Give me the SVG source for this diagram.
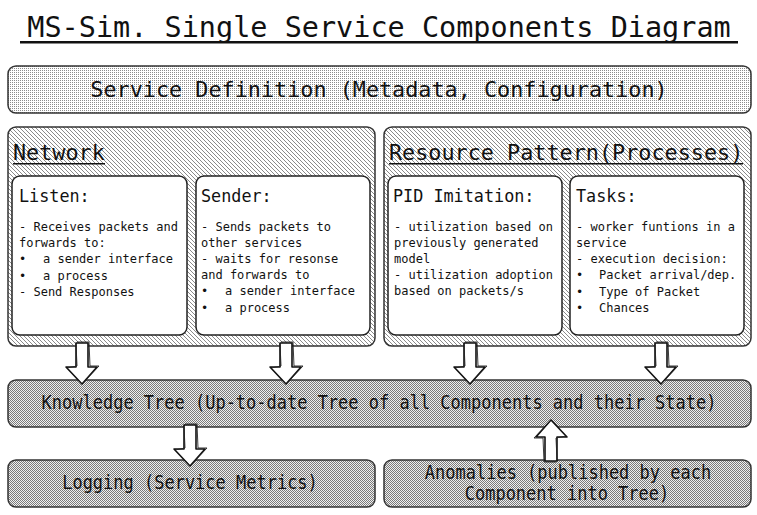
<svg xmlns="http://www.w3.org/2000/svg" width="757" height="515" viewBox="0 0 757 515">
<defs>
<pattern id="dots" width="2" height="2" patternUnits="userSpaceOnUse"><rect width="2" height="2" fill="#fff"/><rect width="1" height="1" fill="#8c8c8c"/></pattern>
<pattern id="hatch" width="4" height="4" patternUnits="userSpaceOnUse"><rect width="4" height="4" fill="#fff"/><path d="M-1,-1 L5,5 M-1,3 L1,5 M3,-1 L5,1" stroke="#8a8a8a" stroke-width="1"/></pattern>
<pattern id="checker" width="2" height="2" patternUnits="userSpaceOnUse"><rect width="2" height="2" fill="#f0f0f0"/><rect width="1" height="1" fill="#7a7a7a"/><rect x="1" y="1" width="1" height="1" fill="#7a7a7a"/></pattern>
<g id="arrow">
<path d="M-6,-41 L6,-41 L6,-17 L15,-17 L0,0 L-16,-17 L-6,-17 Z" fill="#fff" stroke="#111" stroke-width="1.6" stroke-linejoin="round"/>
<path d="M-5,-42 L7,-42 L8,-18 L17,-18 L1,-1 M-6,-40 L-5,-18 L-15,-16" fill="none" stroke="#222" stroke-width="0.9"/>
</g>
</defs>
<style>
.mono{font-family:"DejaVu Sans Mono","Liberation Mono",monospace;fill:#111}
.title{font-size:28.5px}
.big{font-size:21.8px}
.hd{font-size:16.8px}
.body{font-size:12px}
.narrow{font-size:17px}
.outer{stroke:#333;stroke-width:1.5}
.inner{fill:#fff;stroke:#222;stroke-width:1.5}
</style>
<rect width="757" height="515" fill="#fff"/>
<g id="title">
<text class="mono title" x="379" y="37" text-anchor="middle">MS-Sim. Single Service Components Diagram</text>
<rect x="20" y="41" width="718" height="2.5" fill="#111"/>
</g>
<g id="service-definition">
<rect class="outer" x="8" y="66" width="743" height="47" rx="8" fill="url(#dots)"/>
<text class="mono big" x="379" y="97" text-anchor="middle">Service Definition (Metadata, Configuration)</text>
</g>
<g id="network">
<rect class="outer" x="8" y="127" width="367" height="219" rx="8" fill="url(#hatch)"/>
<text class="mono big" x="13" y="160">Network</text>
<rect x="13" y="163" width="92" height="1.5" fill="#111"/>
</g>
<g id="listen">
<rect class="inner" x="12" y="176" width="175" height="159" rx="8"/>
<text class="mono hd" x="19" y="202">Listen:</text>
<text class="mono body" x="19" y="231">- Receives packets and</text>
<text class="mono body" x="19" y="247">forwards to:</text>
<text class="mono body" x="19" y="263">•</text><text class="mono body" x="43" y="263">a sender interface</text>
<text class="mono body" x="19" y="280">•</text><text class="mono body" x="43" y="280">a process</text>
<text class="mono body" x="19" y="296">- Send Responses</text>
</g>
<g id="sender">
<rect class="inner" x="196" y="176" width="174" height="159" rx="8"/>
<text class="mono hd" x="201" y="202">Sender:</text>
<text class="mono body" x="201" y="231">- Sends packets to</text>
<text class="mono body" x="201" y="247">other services</text>
<text class="mono body" x="201" y="263">- waits for resonse</text>
<text class="mono body" x="201" y="279">and forwards to</text>
<text class="mono body" x="201" y="295">•</text><text class="mono body" x="225" y="295">a sender interface</text>
<text class="mono body" x="201" y="312">•</text><text class="mono body" x="225" y="312">a process</text>
</g>
<g id="resource-pattern">
<rect class="outer" x="384" y="127" width="367" height="219" rx="8" fill="url(#hatch)"/>
<text class="mono big" x="389" y="160">Resource Pattern(Processes)</text>
<rect x="389" y="163" width="354" height="1.5" fill="#111"/>
</g>
<g id="pid-imitation">
<rect class="inner" x="388" y="176" width="174" height="159" rx="8"/>
<text class="mono hd" x="393" y="202">PID Imitation:</text>
<text class="mono body" x="394" y="231">- utilization based on</text>
<text class="mono body" x="394" y="247">previously generated</text>
<text class="mono body" x="394" y="263">model</text>
<text class="mono body" x="394" y="279">- utilization adoption</text>
<text class="mono body" x="394" y="295">based on packets/s</text>
</g>
<g id="tasks">
<rect class="inner" x="570" y="176" width="174" height="159" rx="8"/>
<text class="mono hd" x="576" y="202">Tasks:</text>
<text class="mono body" x="576" y="231">- worker funtions in a</text>
<text class="mono body" x="576" y="247">service</text>
<text class="mono body" x="576" y="263">- execution decision:</text>
<text class="mono body" x="576" y="279">•</text><text class="mono body" x="599" y="279">Packet arrival/dep.</text>
<text class="mono body" x="576" y="296">•</text><text class="mono body" x="599" y="296">Type of Packet</text>
<text class="mono body" x="576" y="312">•</text><text class="mono body" x="599" y="312">Chances</text>
</g>
<g id="knowledge-tree">
<rect class="outer" x="8" y="380" width="743" height="47" rx="8" fill="url(#checker)"/>
<text class="mono narrow" transform="translate(379,409) scale(1,1.12)" text-anchor="middle">Knowledge Tree (Up-to-date Tree of all Components and their State)</text>
</g>
<g id="logging">
<rect class="outer" x="8" y="460" width="367" height="47" rx="8" fill="url(#checker)"/>
<text class="mono narrow" transform="translate(190,489) scale(1,1.12)" text-anchor="middle">Logging (Service Metrics)</text>
</g>
<g id="anomalies">
<rect class="outer" x="384" y="460" width="367" height="47" rx="8" fill="url(#checker)"/>
<text class="mono narrow" transform="translate(568,479) scale(1,1.12)" text-anchor="middle">Anomalies (published by each</text>
<text class="mono narrow" transform="translate(567,500) scale(1,1.12)" text-anchor="middle">Component into Tree)</text>
</g>
<g id="connectors">
<use href="#arrow" transform="translate(82,384)"/>
<use href="#arrow" transform="translate(286,384)"/>
<use href="#arrow" transform="translate(470,384)"/>
<use href="#arrow" transform="translate(661,384)"/>
<use href="#arrow" transform="translate(190,466)"/>
<use href="#arrow" transform="translate(551,420) rotate(180)"/>
</g>
</svg>
